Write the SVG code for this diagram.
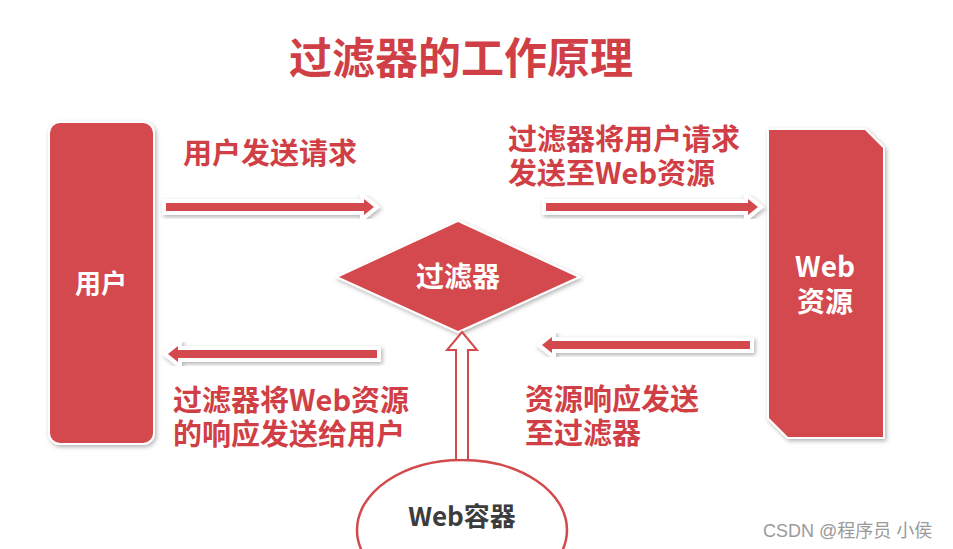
<svg xmlns="http://www.w3.org/2000/svg" width="953" height="549" viewBox="0 0 953 549">
<defs>
<filter id="sh" x="-20%" y="-20%" width="140%" height="140%">
<feDropShadow dx="1.5" dy="2" stdDeviation="2" flood-color="#000" flood-opacity="0.3"/>
</filter>
</defs>
<style>
.box{fill:#d34a4d;stroke:#fff;stroke-width:4;paint-order:stroke;filter:url(#sh)}
.arr{fill:#d34a4d;stroke:#fff;stroke-width:8;stroke-linejoin:miter;paint-order:stroke;filter:url(#sh)}
.t{font-family:"Noto Sans CJK SC","Noto Sans",sans-serif;font-weight:bold}
.red{fill:#d03f45;font-size:29px}
.wh{fill:#fff}
</style>
<rect width="953" height="549" fill="#fff"/>
<text class="t" x="461" y="74" fill="#d03f45" font-size="43" text-anchor="middle">过滤器的工作原理</text>
<g id="user">
<rect class="box" x="50" y="123" width="103" height="320" rx="10"/>
<text class="t wh" x="101" y="293" font-size="26" text-anchor="middle">用户</text>
</g>
<g id="webres">
<path class="box" d="M769,130 L865,130 L883,148 L883,437 L788,437 L769,418 Z"/>
<text class="t wh" font-size="28" text-anchor="middle"><tspan x="825" y="277">Web</tspan><tspan x="825" y="312">资源</tspan></text>
</g>
<g id="filter">
<polygon class="box" points="458,222 577,277 458,331 339,277"/>
<text class="t wh" x="458" y="287" font-size="28" text-anchor="middle">过滤器</text>
</g>
<g id="container">
<ellipse cx="462" cy="530" rx="105" ry="70" fill="#fff" stroke="#d34a4d" stroke-width="2.5"/>
<text class="t" x="462" y="526" fill="#3c3c3c" font-size="26" text-anchor="middle">Web容器</text>
</g>
<g id="connectors">
<polygon class="arr" points="166,203 364,203 364,199 374,207 364,215 364,211 166,211"/>
<polygon class="arr" points="546,203 748,203 748,199 758,207 748,215 748,211 546,211"/>
<polygon class="arr" points="377,350 178,350 178,346 168,354 178,362 178,358 377,358"/>
<polygon class="arr" points="750,341 552,341 552,337 542,345 552,353 552,349 750,349"/>
<polygon points="462,332 477,350 468,350 468,460 456,460 456,350 447,350" fill="#fff" stroke="#d34a4d" stroke-width="2" stroke-linejoin="miter"/>
</g>
<g id="labels">
<text class="t red" x="183" y="164">用户发送请求</text>
<text class="t red"><tspan x="508" y="150">过滤器将用户请求</tspan><tspan x="508" y="184">发送至Web资源</tspan></text>
<text class="t red"><tspan x="173" y="411">过滤器将Web资源</tspan><tspan x="173" y="445">的响应发送给用户</tspan></text>
<text class="t red"><tspan x="525" y="410">资源响应发送</tspan><tspan x="525" y="444">至过滤器</tspan></text>
</g>
<text x="763" y="537" font-family="'Liberation Sans','Noto Sans CJK SC',sans-serif" font-size="18" fill="#9a9a9a">CSDN @程序员 小侯</text>
</svg>
